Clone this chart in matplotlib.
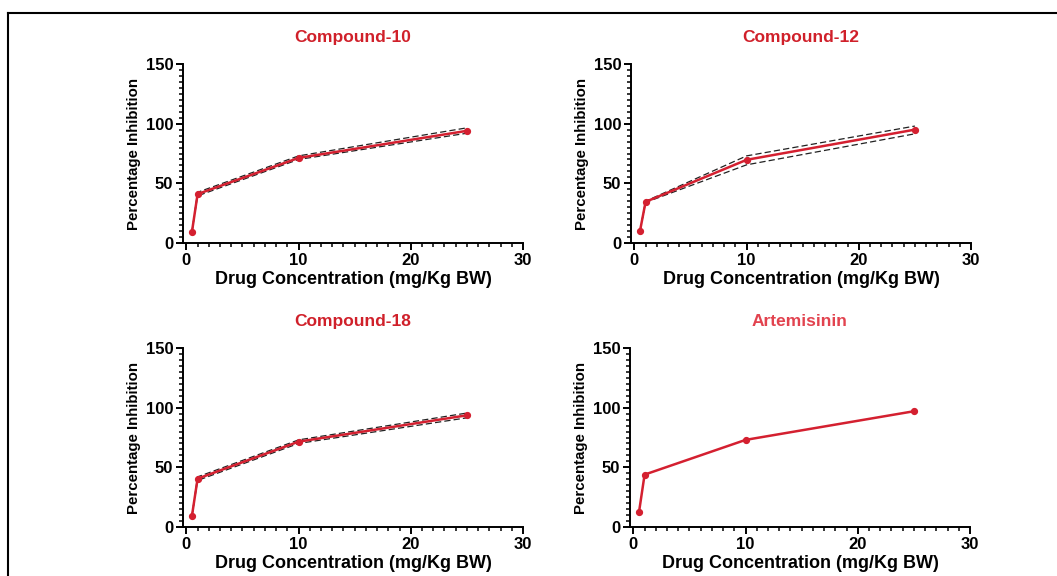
import matplotlib
matplotlib.use("Agg")
import matplotlib.pyplot as plt
from matplotlib.lines import Line2D
from matplotlib.ticker import MultipleLocator

plt.rcParams["font.family"] = ["Liberation Sans", "DejaVu Sans"]
plt.rcParams["font.weight"] = "bold"

dose = [0.5, 1, 10, 25]

titles = ["Compound-10", "Compound-12", "Compound-18", "Artemisinin"]
inhibition = [
    [9.5, 41, 71.3, 94],
    [10, 34.5, 69.7, 95],
    [9.5, 40.5, 71.5, 93.6],
    [12.3, 43.9, 73, 97],
]
# dashed confidence bands (upper, lower); None for Artemisinin
band_upper = [
    [9.5, 42.5, 73, 96.5],
    [10, 35, 73, 98],
    [9.5, 42, 73, 95.5],
    None,
]
band_lower = [
    [9.5, 39.5, 70, 92],
    [10, 34, 65.5, 91.5],
    [9.5, 39, 70, 91.5],
    None,
]
title_colors = ["#d0202a", "#d0202a", "#d0202a", "#e2434f"]
line_color = "#d42030"

fig = plt.figure(figsize=(10.57, 5.76), dpi=100)

W, H = 1057, 576
positions = [
    (183, 64, 243),
    (631, 64, 243),
    (183, 348, 527),
    (630, 348, 527),
]
width = 340

for i, (x0, ytop, ybot) in enumerate(positions):
    ax = fig.add_axes([x0 / W, 1 - ybot / H, width / W, (ybot - ytop) / H])
    if band_upper[i] is not None:
        ax.plot(dose, band_upper[i], color="#222222", lw=0.9, ls=(0, (5, 2.5)))
        ax.plot(dose, band_lower[i], color="#222222", lw=0.9, ls=(0, (5, 2.5)))
    ax.plot(dose, inhibition[i], color=line_color, lw=1.8, marker="o",
            markersize=4.2, zorder=3)
    ax.set_xlim(-0.3, 30)
    ax.set_ylim(0, 150)
    ax.xaxis.set_major_locator(MultipleLocator(10))
    ax.xaxis.set_minor_locator(MultipleLocator(1))
    ax.yaxis.set_major_locator(MultipleLocator(50))
    ax.yaxis.set_minor_locator(MultipleLocator(5))
    for s in ["top", "right"]:
        ax.spines[s].set_visible(False)
    for s in ["left", "bottom"]:
        ax.spines[s].set_linewidth(1.4)
    ax.tick_params(which="major", length=5, width=1.4, labelsize=12, pad=2)
    ax.tick_params(which="minor", length=3, width=1.1)
    for lab in ax.get_xticklabels() + ax.get_yticklabels():
        lab.set_fontweight("bold")
    ax.set_xlabel("Drug Concentration (mg/Kg BW)", fontsize=13,
                  fontweight="bold", labelpad=2)
    ax.set_ylabel("Percentage Inhibition", fontsize=10.8, fontweight="bold",
                  labelpad=3)
    ax.set_title(titles[i], fontsize=12.5, fontweight="bold",
                 color=title_colors[i], pad=16)

# partial frame around the figure (left and top edges)
fig.add_artist(Line2D([8 / W, 8 / W], [0, 1 - 13 / H], color="black", lw=1.5))
fig.add_artist(Line2D([8 / W, 1], [1 - 13 / H, 1 - 13 / H], color="black", lw=1.5))

fig.savefig("out.png", dpi=100)
